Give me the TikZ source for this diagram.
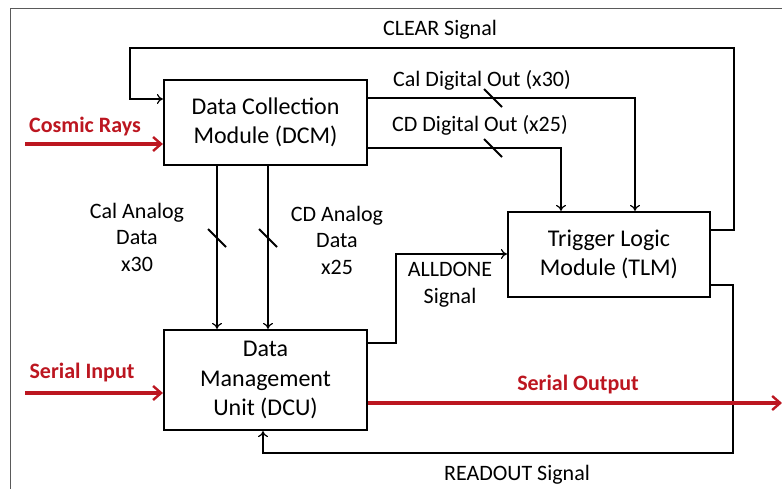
\documentclass[tikz,border=0pt]{standalone}
\usepackage{fontspec}
\setmainfont{Carlito}
\usetikzlibrary{arrows.meta,calc}
\definecolor{sigred}{RGB}{188,22,32}
\definecolor{framegray}{RGB}{90,90,90}
\begin{document}
\begin{tikzpicture}[x=1pt,y=-1pt,
  block/.style={draw,line width=2.2pt,fill=white,align=center,inner sep=0pt,
    font=\fontsize{24}{29.5}\selectfont},
  conn/.style={line width=1.8pt},
  tip/.style={-{To[length=6pt,width=10pt,line width=1.2pt]}},
  redarrow/.style={draw=sigred,line width=3.6pt,-{Straight Barb[length=8pt,width=14pt,line width=2.4pt]}},
  lbl/.style={align=center,inner sep=0pt,font=\fontsize{22}{26.5}\selectfont},
  redlbl/.style={text=sigred,inner sep=0pt,font=\bfseries\fontsize{22}{24}\selectfont},
  tick/.style={line width=1.8pt}]
\useasboundingbox (0,0) rectangle (782,489);
\begin{scope}
\clip (0,0) rectangle (782,489);
\draw[framegray,line width=1pt] (10,9) rectangle (800,500);

% blocks
\node[block,minimum width=203pt,minimum height=85pt] (dcm) at (265.5,122.5)
  {Data Collection\\Module (DCM)};
\node[block,minimum width=202pt,minimum height=85pt] (tlm) at (609,254.5)
  {Trigger Logic\\Module (TLM)};
\node[block,minimum width=203pt,minimum height=100pt] (dmu) at (265.5,380)
  {Data\\Management\\Unit (DCU)};

% free ends of the outer arrows
\coordinate (crin) at (25,144);
\coordinate (siin) at (25,393);
\coordinate (soout) at (782,403);

% CLEAR signal: TLM back to DCM
\draw[conn,tip] (tlm.east |- 0,230) -- (734,230) -- (734,48) -- (130,48)
  -- (130,99) -- (dcm.west |- 0,99);
\node[lbl] (clearlbl) at (440,30) {CLEAR Signal};

% digital outputs: DCM to TLM
\draw[conn,tip] (dcm.east |- 0,98) -- (635,98) -- (tlm.north -| 635,0);
\draw[conn,tip] (dcm.east |- 0,148) -- (561,148) -- (tlm.north -| 561,0);
\draw[tick] (484,89) -- (502,107);
\draw[tick] (484,139) -- (502,157);
\node[lbl] (caldlbl) at (482,80) {Cal Digital Out (x30)};
\node[lbl] (cddlbl) at (480,125) {CD Digital Out (x25)};

% analog data: DCM to DMU
\draw[conn,tip] (dcm.south -| 217,0) -- (dmu.north -| 217,0);
\draw[conn,tip] (dcm.south -| 268,0) -- (dmu.north -| 268,0);
\draw[tick] (208,229) -- (226,247);
\draw[tick] (259,229) -- (277,247);
\node[lbl] (calalbl) at (137,237) {Cal Analog\\Data\\x30};
\node[lbl] (cdalbl) at (337,240) {CD Analog\\Data\\x25};

% ALLDONE: DMU to TLM
\draw[conn,tip] (dmu.east |- 0,343) -- (396,343) -- (396,254) -- (tlm.west |- 0,254);
\node[lbl] (alldlbl) at (450,285) {ALLDONE\\Signal};

% READOUT: TLM back to DMU
\draw[conn,tip] (tlm.east |- 0,285) -- (733,285) -- (733,453) -- (263,453)
  -- (dmu.south -| 263,0);
\node[lbl] (readlbl) at (517,475) {READOUT Signal};

% red serial paths
\draw[redarrow] (crin) -- (dcm.west |- crin);
\node[redlbl] (crlbl) at (85,127) {Cosmic Rays};
\draw[redarrow] (siin) -- (dmu.west |- siin);
\node[redlbl] (silbl) at (82,373) {Serial Input};
\draw[redarrow] (dmu.east |- soout) -- (soout);
\node[redlbl] (solbl) at (578,385) {Serial Output};
\end{scope}
\end{tikzpicture}
\end{document}
